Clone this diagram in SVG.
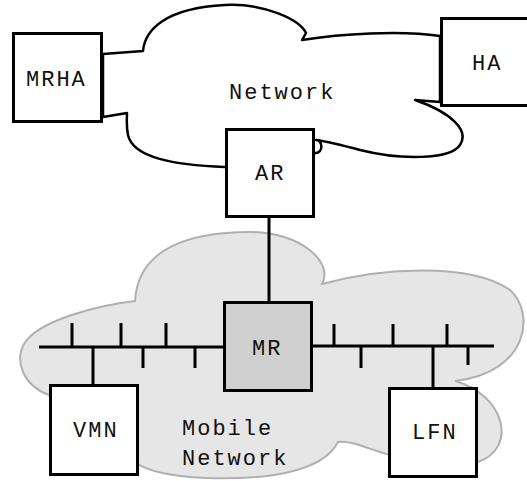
<svg xmlns="http://www.w3.org/2000/svg" width="527" height="481" viewBox="0 0 527 481">
  <style>
    .box { fill: #ffffff; stroke: #000000; stroke-width: 3; }
    .router { fill: #d0d0d0; stroke: #000000; stroke-width: 3; }
    .label { font-family: "Liberation Mono", "DejaVu Sans Mono", monospace; font-size: 22px; letter-spacing: 2px; fill: #111111; }
    .wire { stroke: #000000; stroke-width: 3; fill: none; }
    .net { fill: #ffffff; stroke: #000000; stroke-width: 2.5; stroke-linejoin: round; }
    .mobile { fill: #e6e6e6; stroke: #b0b0b0; stroke-width: 2; }
  </style>

  <rect width="527" height="481" fill="#ffffff"/>

  <!-- mobile network area -->
  <path id="mobile-cloud" class="mobile" d="M135,301 C138,248 190,232 250,232 C300,232 334,262 322,284 C380,268 470,262 510,290 C535,312 530,372 455,381 C505,395 518,448 478,462 L390,455 C370,450 352,440 338,442 C322,474 260,480 205,478 C165,476 145,470 135,462 L49,395 C22,385 15,360 24,344 C38,320 100,305 135,301 Z"/>

  <!-- core network cloud -->
  <path id="core-cloud" class="net" d="M103,54 L143,51 C145,30 165,8 225,5 C265,3 300,20 306,33 L302,40 C340,34 400,30 440,36 L440,102 L415,100 C450,112 470,130 460,145 C450,160 400,160 360,150 C345,146 330,142 316,140 A5,6 0 0 1 316,153 L225,167 C175,165 133,158 128,135 C126,125 127,118 127,113 L103,117 Z"/>
  <text class="label" x="229" y="99">Network</text>
  <text class="label" x="182" y="435">Mobile</text>
  <text class="label" x="182" y="465">Network</text>

  <!-- links -->
  <g id="connectors" class="wire">
    <line x1="269" y1="218" x2="269" y2="301"/>
    <!-- left segment -->
    <line x1="39" y1="347" x2="224" y2="347"/>
    <line x1="72" y1="323" x2="72" y2="347"/>
    <line x1="121" y1="323" x2="121" y2="347"/>
    <line x1="166" y1="323" x2="166" y2="347"/>
    <line x1="143" y1="347" x2="143" y2="368"/>
    <line x1="195" y1="347" x2="195" y2="368"/>
    <line x1="93" y1="347" x2="93" y2="385"/>
    <!-- right segment -->
    <line x1="312" y1="346" x2="494" y2="346"/>
    <line x1="334" y1="324" x2="334" y2="346"/>
    <line x1="393" y1="324" x2="393" y2="346"/>
    <line x1="447" y1="324" x2="447" y2="346"/>
    <line x1="361" y1="346" x2="361" y2="368"/>
    <line x1="468" y1="346" x2="468" y2="365"/>
    <line x1="433" y1="346" x2="433" y2="388"/>
  </g>

  <g id="MRHA">
    <rect class="box" x="13.5" y="33.5" width="88" height="88"/>
    <text class="label" x="26" y="86">MRHA</text>
  </g>
  <g id="HA">
    <rect class="box" x="441.5" y="18.5" width="92" height="87"/>
    <text class="label" x="472" y="70">HA</text>
  </g>
  <g id="AR">
    <rect class="box" x="226.5" y="129.5" width="87" height="87"/>
    <text class="label" x="255" y="180">AR</text>
  </g>
  <g id="MR">
    <rect class="router" x="224.5" y="302.5" width="87" height="88"/>
    <text class="label" x="252" y="355">MR</text>
  </g>
  <g id="VMN">
    <rect class="box" x="50.5" y="385.5" width="87" height="89"/>
    <text class="label" x="73" y="437">VMN</text>
  </g>
  <g id="LFN">
    <rect class="box" x="389.5" y="388.5" width="87" height="88"/>
    <text class="label" x="412" y="439">LFN</text>
  </g>
</svg>
